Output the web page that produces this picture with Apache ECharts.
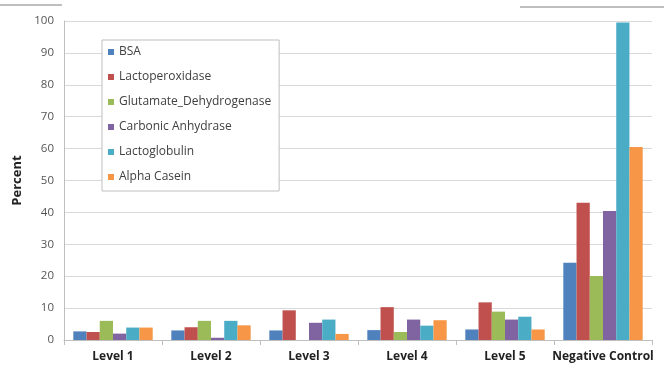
<!DOCTYPE html>
<html><head><meta charset="utf-8">
<script src="https://cdn.jsdelivr.net/npm/echarts@6/dist/echarts.min.js"></script>
<style>html,body{margin:0;padding:0;background:#fff}#c{width:664px;height:369px}</style>
</head><body><div id="c"></div>
<script>
const categories = ['Level 1','Level 2','Level 3','Level 4','Level 5','Negative Control'];
const seriesNames = ['BSA','Lactoperoxidase','Glutamate_Dehydrogenase','Carbonic Anhydrase','Lactoglobulin','Alpha Casein'];
const bsa = [2.7, 3.0, 3.0, 3.1, 3.3, 24.2];
const lactoperoxidase = [2.5, 4.0, 9.3, 10.3, 11.8, 43.0];
const glutamate = [6.0, 6.0, 0, 2.5, 8.9, 20.1];
const carbonic = [2.0, 0.7, 5.4, 6.4, 6.4, 40.4];
const lactoglobulin = [3.9, 6.0, 6.4, 4.5, 7.3, 99.5];
const alphaCasein = [3.9, 4.6, 1.9, 6.2, 3.3, 60.5];
const yTicks = [0,10,20,30,40,50,60,70,80,90,100];
const colors = ['#4F81BD','#C0504D','#9BBB59','#8064A2','#4BACC6','#F79646'];
const allData = [bsa, lactoperoxidase, glutamate, carbonic, lactoglobulin, alphaCasein];

const chart = echarts.init(document.getElementById('c'));
chart.setOption({
  animation:false,
  color: colors,
  grid:{left:64,right:12,top:21,bottom:29,containLabel:false},
  legend:{
    orient:'vertical', left:102, top:40,
    backgroundColor:'#fff', borderColor:'#bfbfbf', borderWidth:1,
    padding:[6,8,8,6], itemGap:13, itemWidth:6, itemHeight:6, icon:'rect',
    textStyle:{fontFamily:'Open Sans', fontSize:12, color:'#404040', width:150, overflow:'none'},
    data: seriesNames
  },
  xAxis:{
    type:'category', data:categories, boundaryGap:true,
    axisLine:{lineStyle:{color:'#bfbfbf'}},
    axisTick:{show:true, length:5, alignWithLabel:false, lineStyle:{color:'#bfbfbf'}},
    axisLabel:{fontFamily:'Open Sans', fontSize:12, fontWeight:'bold', color:'#222', margin:11, interval:0}
  },
  yAxis:{
    type:'value', min:0, max:100, interval:10,
    name:'Percent', nameLocation:'middle', nameGap:38,
    nameTextStyle:{fontFamily:'Open Sans', fontSize:13, fontWeight:'bold', color:'#222'},
    axisLine:{show:true, lineStyle:{color:'#bfbfbf'}},
    axisTick:{show:false},
    axisLabel:{fontFamily:'Open Sans', fontSize:11.5, color:'#555', margin:10,
      formatter:(v)=> yTicks.includes(v) ? String(v) : ''},
    splitLine:{lineStyle:{color:'#d9d9d9'}}
  },
  series: seriesNames.map((n,i)=>({
    name:n, type:'bar', data:allData[i], barGap:'0%', barCategoryGap:'19%'
  })),
  graphic:[
    {type:'line', shape:{x1:0,y1:5,x2:62,y2:5}, style:{stroke:'#aaa', lineWidth:1.5}},
    {type:'line', shape:{x1:520,y1:7,x2:664,y2:7}, style:{stroke:'#aaa', lineWidth:1.5}}
  ]
});
</script></body></html>
